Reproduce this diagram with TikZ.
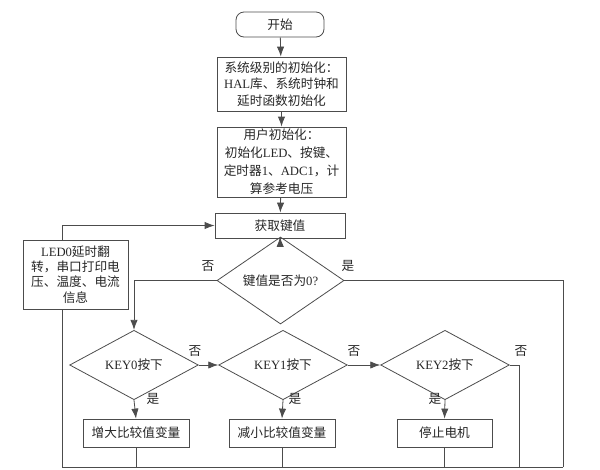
\documentclass[tikz,border=0pt]{standalone}
\usepackage{fontspec}
\setmainfont{Noto Sans CJK SC}
\newfontfamily\lat{Liberation Serif}
\usetikzlibrary{shapes.geometric,arrows.meta}

\begin{document}
\begin{tikzpicture}[x=0.75pt,y=0.75pt,yscale=-1,
  every node/.style={font=\fontsize{9.5}{12.5}\selectfont,text=black!85},
  proc/.style={draw=black!70,line width=0.6pt,rectangle,align=center,inner sep=0pt},
  decide/.style={draw=black!70,line width=0.6pt,diamond,inner sep=0pt,minimum width=96.5pt,minimum height=39.75pt},
  flow/.style={draw=black!70,line width=0.6pt,-{Latex[length=7.5pt,width=5.5pt]}},
  line/.style={draw=black!70,line width=0.6pt},
  lbl/.style={inner sep=0.75pt}]
\path[use as bounding box] (0,0) rectangle (600,469);

% Text Node
\node[proc,rounded corners=6pt,minimum width=66pt,minimum height=18.75pt] (start) at (280,24.5) {开始};
% Text Node
\node[proc,minimum width=96.75pt,minimum height=40.5pt] (sysinit) at (281.5,84) {系统级别的初始化：\\{\lat HAL}库、系统时钟和\\延时函数初始化};
% Text Node
\node[proc,minimum width=96.75pt,minimum height=52.5pt,font=\fontsize{9.5}{13.5}\selectfont] (userinit) at (281.5,162) {用户初始化：\\初始化{\lat LED}、按键、\\定时器{\lat 1}、{\lat ADC1}，计\\算参考电压};
% Text Node
\node[proc,minimum width=97.5pt,minimum height=18.75pt] (getkey) at (280,225.5) {获取键值};
% Text Node
\node[decide,minimum width=95.25pt] (iszero) at (280.5,280.5) {键值是否为{\lat 0?}};
% Text Node
\node[proc,minimum width=78.75pt,minimum height=51.75pt,font=\fontsize{9.5}{11.5}\selectfont] (led) at (75.5,274.5) {{\lat LED0}延时翻\\转，串口打印电\\压、温度、电流\\信息};
% Text Node
\node[decide] (key0) at (134,365) {{\lat KEY0}按下};
% Text Node
\node[decide] (key1) at (283,365) {{\lat KEY1}按下};
% Text Node
\node[decide] (key2) at (445,365) {{\lat KEY2}按下};
% Text Node
\node[proc,minimum width=79.5pt,minimum height=21pt] (inc) at (136,433) {增大比较值变量};
% Text Node
\node[proc,minimum width=79.5pt,minimum height=21pt] (dec) at (282,433) {减小比较值变量};
% Text Node
\node[proc,minimum width=71.25pt,minimum height=21pt] (stop) at (444.5,433) {停止电机};

% Labels
\node[lbl] (n0) at (208,266) {否};
\node[lbl] (y0) at (348,266) {是};
\node[lbl] (n1) at (195,351) {否};
\node[lbl] (n2) at (354,351) {否};
\node[lbl] (n3) at (521,351) {否};
\node[lbl] (y1) at (153,399) {是};
\node[lbl] (y2) at (295,399) {是};
\node[lbl] (y3) at (435,399) {是};

\coordinate (bl) at (62.5,467);
\coordinate (br) at (563,467);
\coordinate (k2r) at (519,467);

% Connection
\draw[flow] (start) -- (sysinit);
% Connection
\draw[flow] (sysinit) -- (userinit);
% Connection
\draw[flow] (userinit) -- (getkey);
% Connection
\draw[flow] (getkey) -- (iszero);
% Connection
\draw[flow] (iszero.west) -| (key0.north);
% Connection
\draw[line] (iszero.east) -| (br);
% Connection
\draw[flow] (key0.east) -- (key1.west);
% Connection
\draw[flow] (key1.east) -- (key2.west);
% Connection
\draw[line] (key2.east) -| (k2r);
% Connection
\draw[flow] (key0.south) -- (inc.north);
% Connection
\draw[flow] (key1.south) -- (dec.north);
% Connection
\draw[flow] (key2.south) -- (stop.north);
% Connection
\draw[line] (inc.south) -- (inc.south |- bl);
% Connection
\draw[line] (dec.south) -- (dec.south |- bl);
% Connection
\draw[line] (stop.south) -- (stop.south |- bl);
% Connection
\draw[line] (br) -- (bl) -- (bl |- led.south);
% Connection
\draw[flow] (bl |- led.north) |- (getkey.west);

\end{tikzpicture}
\end{document}
